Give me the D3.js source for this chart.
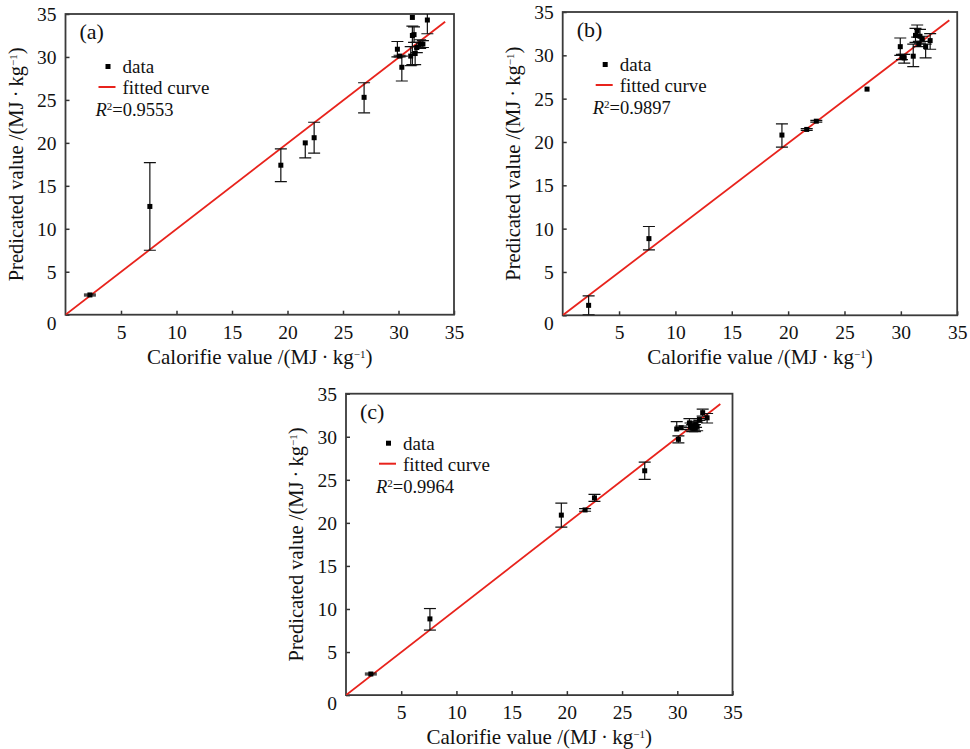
<!DOCTYPE html>
<html>
<head>
<meta charset="utf-8">
<script src="https://cdn.jsdelivr.net/npm/d3@7/dist/d3.min.js"></script>
<style>
  body { margin: 0; background: #fff; }
  text { font-family: "Liberation Serif", "DejaVu Serif", serif; fill: #111; }
</style>
</head>
<body>
<svg id="chart" width="970" height="749"></svg>
<script>
// tick values shared by all three panels
var xTicks = [5, 10, 15, 20, 25, 30, 35];
var yTicks = [0, 5, 10, 15, 20, 25, 30, 35];

// panel (a)
var xA    = [2.2, 7.6, 19.4, 21.6, 22.4, 26.9, 29.9, 30.1, 30.3, 31.1, 31.25, 31.25, 31.4, 31.5, 31.65, 31.95, 32.2, 32.6];
var yA    = [2.3, 12.6, 17.4, 20.0, 20.6, 25.3, 30.9, 30.1, 28.8, 30.1, 34.6, 32.5, 32.6, 30.4, 31.1, 31.5, 31.5, 34.3];
var upA   = [0.1, 5.1, 1.9, 0, 1.8, 1.7, 0.9, 0.1, 1.3, 1.1, 0, 1.1, 0.9, 0.8, 0.6, 0.5, 0.4, 1.0];
var downA = [0.1, 5.1, 1.9, 1.75, 1.8, 1.8, 0.9, 0.1, 1.6, 1.1, 0, 3.4, 0.9, 1.3, 0.6, 0.5, 0.4, 1.6];
var fitXA = [0, 34.2], fitYA = [0, 34.1];

// panel (b)
var xB    = [2.3, 7.65, 19.45, 21.65, 22.5, 27.0, 29.95, 30.1, 30.3, 31.1, 31.3, 31.45, 31.6, 31.7, 31.9, 32.2, 32.6];
var yB    = [1.15, 8.85, 20.8, 21.45, 22.4, 26.1, 31.0, 29.8, 29.7, 29.9, 32.3, 32.8, 31.3, 32.2, 31.9, 31.0, 31.7];
var upB   = [1.1, 1.4, 1.3, 0.1, 0.1, 0, 1.0, 0.3, 0.4, 1.4, 0.8, 0.7, 0.3, 0.8, 0.3, 0.3, 0.8];
var downB = [1.1, 1.3, 1.4, 0.1, 0.1, 0, 1.0, 0.3, 0.6, 1.2, 0.8, 0.7, 0.3, 0.8, 0.3, 1.3, 1.0];
var fitXB = [0, 34.3], fitYB = [0, 34.05];

// panel (c)
var xC    = [2.25, 7.6, 19.5, 21.65, 22.5, 27.05, 29.95, 30.1, 30.35, 31.1, 31.2, 31.35, 31.5, 31.6, 31.7, 31.8, 32.0, 32.3, 32.7];
var yC    = [2.45, 8.85, 20.9, 21.5, 22.9, 26.05, 30.9, 29.7, 31.05, 31.6, 31.2, 31.0, 31.3, 31.0, 31.4, 31.2, 32.0, 32.8, 32.2];
var upC   = [0.1, 1.2, 1.4, 0.15, 0.4, 1.0, 0.85, 0.4, 0.2, 0.5, 0.4, 0.4, 0.5, 0.4, 0.3, 0.5, 0.1, 0.4, 0.5];
var downC = [0.1, 1.3, 1.4, 0.15, 0.4, 1.0, 0, 0.4, 0.2, 0.5, 0.4, 0.4, 0.5, 0.4, 0.3, 0.5, 0.1, 0.4, 0.6];
var fitXC = [0, 33.9], fitYC = [0, 33.8];

var svg = d3.select("#chart");

function unitLabel(sel, prefix) {
    sel.append("tspan").text(prefix + "(MJ\u2009\u00b7\u2009kg");
    sel.append("tspan").attr("baseline-shift", "super").attr("font-size", "11px").text("\u22121");
    sel.append("tspan").text(")");
}

function drawPanel(p) {
    var g = svg.append("g").attr("transform", "translate(" + p.left + "," + p.top + ")");
    var x = d3.scaleLinear().domain([0, 35]).range([0, p.w]);
    var y = d3.scaleLinear().domain([0, 35]).range([p.h, 0]);

    g.append("clipPath").attr("id", "clip" + p.name)
        .append("rect").attr("width", p.w).attr("height", p.h);

    // axes with inward ticks
    var xAxis = g.append("g").attr("transform", "translate(0," + p.h + ")")
        .call(d3.axisBottom(x).tickValues(xTicks).tickSize(-4).tickPadding(10));
    var yAxis = g.append("g")
        .call(d3.axisLeft(y).tickValues(yTicks).tickSize(-4).tickPadding(9));
    [xAxis, yAxis].forEach(function(a) {
        a.select(".domain").remove();
        a.selectAll("line").attr("stroke", "#333").attr("stroke-width", 1.5);
        a.selectAll("text").attr("font-size", "19.5px").attr("fill", "#111")
            .style("font-family", "'Liberation Serif', serif");
    });
    yAxis.selectAll("text").attr("dy", function(d) { return d === 0 ? "0.75em" : "0.33em"; });

    g.append("rect").attr("width", p.w).attr("height", p.h)
        .attr("fill", "none").attr("stroke", "#3a3a3a").attr("stroke-width", 1.8);

    var plot = g.append("g").attr("clip-path", "url(#clip" + p.name + ")");

    // fitted line
    plot.append("line")
        .attr("x1", x(p.fitX[0])).attr("y1", y(p.fitY[0]))
        .attr("x2", x(p.fitX[1])).attr("y2", y(p.fitY[1]))
        .attr("stroke", "#e8231c").attr("stroke-width", 1.8);

    var idx = d3.range(p.xs.length);
    var eb = plot.selectAll(".eb").data(idx).enter().append("g").attr("class", "eb")
        .attr("stroke", "#111").attr("stroke-width", 1.2);
    eb.filter(function(i) { return p.up[i] + p.down[i] > 0; }).append("line")
        .attr("x1", function(i) { return x(p.xs[i]); })
        .attr("x2", function(i) { return x(p.xs[i]); })
        .attr("y1", function(i) { return y(p.ys[i] + p.up[i]); })
        .attr("y2", function(i) { return y(p.ys[i] - p.down[i]); });
    eb.filter(function(i) { return p.up[i] > 0; }).append("line")
        .attr("x1", function(i) { return x(p.xs[i]) - 6; })
        .attr("x2", function(i) { return x(p.xs[i]) + 6; })
        .attr("y1", function(i) { return y(p.ys[i] + p.up[i]); })
        .attr("y2", function(i) { return y(p.ys[i] + p.up[i]); });
    eb.filter(function(i) { return p.down[i] > 0; }).append("line")
        .attr("x1", function(i) { return x(p.xs[i]) - 6; })
        .attr("x2", function(i) { return x(p.xs[i]) + 6; })
        .attr("y1", function(i) { return y(p.ys[i] - p.down[i]); })
        .attr("y2", function(i) { return y(p.ys[i] - p.down[i]); });

    plot.selectAll(".pt").data(idx).enter().append("rect").attr("class", "pt")
        .attr("x", function(i) { return x(p.xs[i]) - 2.5; })
        .attr("y", function(i) { return y(p.ys[i]) - 2.5; })
        .attr("width", 5).attr("height", 5).attr("fill", "#000");

    // panel letter + legend
    g.append("text").attr("x", 14).attr("y", 25).attr("font-size", "22px").text("(" + p.name + ")");
    g.append("rect").attr("x", 40).attr("y", p.legY - 3).attr("width", 5).attr("height", 5).attr("fill", "#000");
    g.append("text").attr("x", 57).attr("y", p.legY + 6).attr("font-size", "19px").text("data");
    g.append("line").attr("x1", 33).attr("x2", 50).attr("y1", p.legY + 20).attr("y2", p.legY + 20)
        .attr("stroke", "#e8231c").attr("stroke-width", 2);
    g.append("text").attr("x", 57).attr("y", p.legY + 27).attr("font-size", "19px").text("fitted curve");
    var r2 = g.append("text").attr("x", 30).attr("y", p.legY + 49).attr("font-size", "18.5px");
    r2.append("tspan").attr("font-style", "italic").text("R");
    r2.append("tspan").attr("baseline-shift", "super").attr("font-size", "11px").text("2");
    r2.append("tspan").text("=" + p.r2);

    // axis titles
    var xt = g.append("text").attr("x", p.w / 2).attr("y", p.h + 49)
        .attr("text-anchor", "middle").attr("font-size", "21px");
    unitLabel(xt, "Calorifie value /");
    var yt = g.append("text").attr("transform", "translate(-43," + (p.h / 2) + ") rotate(-90)")
        .attr("text-anchor", "middle").attr("font-size", "20.5px");
    unitLabel(yt, "Predicated value /");
}

drawPanel({name: "a", left: 65.5, top: 14, w: 388.5, h: 300.7, legY: 53,
    xs: xA, ys: yA, up: upA, down: downA, fitX: fitXA, fitY: fitYA, r2: "0.9553"});
drawPanel({name: "b", left: 562.7, top: 12, w: 394.5, h: 303.3, legY: 53,
    xs: xB, ys: yB, up: upB, down: downB, fitX: fitXB, fitY: fitYB, r2: "0.9897"});
drawPanel({name: "c", left: 346, top: 393.7, w: 386.5, h: 301.4, legY: 50,
    xs: xC, ys: yC, up: upC, down: downC, fitX: fitXC, fitY: fitYC, r2: "0.9964"});
</script>
</body>
</html>
